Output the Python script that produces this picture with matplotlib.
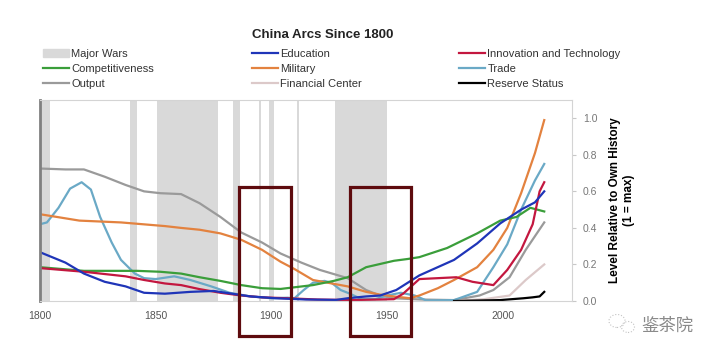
import matplotlib
matplotlib.use("Agg")
import matplotlib.pyplot as plt
from matplotlib.patches import Patch, Rectangle, Ellipse

plt.rcParams['font.family'] = ['Liberation Sans', 'DejaVu Sans']

FIG_SIZE = (7.15, 3.58)
DPI = 100
TITLE = "China Arcs Since 1800"
Y_LABEL = "Level Relative to Own History\n(1 = max)"
WAR_COLOR = '#d9d9d9'
BOX_COLOR = '#5e0b0e'

# data
war_spans = [(1800, 1804.5), (1839, 1842), (1850.5, 1877), (1883.5, 1886.5),
             (1894.5, 1895.5), (1899, 1901), (1911, 1912), (1927.5, 1950)]

output_years = [1800, 1811, 1819, 1828, 1837, 1845, 1852, 1861, 1869, 1878, 1887, 1896,
                1904, 1913, 1921, 1933, 1941, 1947, 1953, 1965, 1979, 1990, 1996, 2003,
                2010, 2018]
output_vals = [0.725, 0.72, 0.72, 0.68, 0.635, 0.60, 0.59, 0.585, 0.535, 0.46, 0.375, 0.32,
               0.26, 0.21, 0.17, 0.125, 0.06, 0.03, 0.015, 0.008, 0.005, 0.03, 0.06, 0.13,
               0.28, 0.43]

trade_years = [1800, 1803, 1808, 1813, 1818, 1822, 1826, 1831, 1835, 1841, 1845, 1850,
               1858, 1865, 1874, 1882, 1891, 1900, 1907, 1910, 1914, 1918, 1923, 1926,
               1930, 1934, 1939, 1945, 1950, 1956, 1962, 1967, 1979, 1989, 1996, 2002,
               2008, 2014, 2018]
trade_vals = [0.42, 0.43, 0.51, 0.615, 0.65, 0.61, 0.46, 0.32, 0.225, 0.15, 0.125, 0.12,
              0.135, 0.115, 0.08, 0.045, 0.025, 0.015, 0.018, 0.015, 0.06, 0.10, 0.11, 0.10,
              0.06, 0.04, 0.01, 0.01, 0.03, 0.045, 0.03, 0.003, 0.005, 0.05, 0.185, 0.31,
              0.50, 0.66, 0.75]

military_years = [1800, 1817, 1835, 1854, 1861, 1869, 1878, 1887, 1896, 1904, 1910, 1918,
                  1933, 1941, 1947, 1953, 1960, 1964, 1972, 1979, 1989, 1996, 2002, 2008,
                  2014, 2018]
military_vals = [0.475, 0.44, 0.43, 0.41, 0.40, 0.39, 0.37, 0.335, 0.28, 0.215, 0.175, 0.115,
                 0.08, 0.05, 0.035, 0.025, 0.015, 0.03, 0.07, 0.115, 0.185, 0.28, 0.40, 0.59,
                 0.81, 0.99]

education_years = [1800, 1811, 1819, 1828, 1837, 1845, 1854, 1865, 1875, 1883, 1891, 1902,
                   1915, 1928, 1933, 1941, 1947, 1954, 1959, 1964, 1979, 1989, 1999, 2008,
                   2014, 2018]
education_vals = [0.267, 0.21, 0.15, 0.105, 0.08, 0.045, 0.04, 0.05, 0.055, 0.04, 0.025, 0.015,
                  0.008, 0.006, 0.015, 0.025, 0.03, 0.06, 0.10, 0.14, 0.225, 0.315, 0.425, 0.50,
                  0.54, 0.60]

compet_years = [1800, 1819, 1842, 1852, 1861, 1869, 1878, 1887, 1896, 1904, 1918, 1927,
                1933, 1941, 1953, 1959, 1964, 1976, 1989, 1999, 2006, 2012, 2018]
compet_vals = [0.185, 0.165, 0.165, 0.16, 0.15, 0.13, 0.11, 0.087, 0.07, 0.066, 0.087, 0.11,
               0.13, 0.185, 0.22, 0.23, 0.24, 0.29, 0.37, 0.44, 0.46, 0.51, 0.49]

innov_years = [1800, 1819, 1837, 1845, 1854, 1861, 1869, 1878, 1887, 1896, 1907, 1920,
               1935, 1953, 1957, 1964, 1980, 1987, 1996, 2002, 2008, 2013, 2016, 2018]
innov_vals = [0.18, 0.16, 0.135, 0.115, 0.096, 0.087, 0.065, 0.045, 0.03, 0.02, 0.015, 0.008,
              0.005, 0.01, 0.04, 0.12, 0.13, 0.105, 0.087, 0.17, 0.28, 0.42, 0.60, 0.65]

financial_years = [1978, 1992, 2003, 2010, 2018]
financial_vals = [0.0, 0.01, 0.03, 0.115, 0.20]

reserve_years = [1979, 1999, 2009, 2013, 2016, 2018]
reserve_vals = [0.0, 0.005, 0.015, 0.02, 0.025, 0.05]

box_spans = [(1886.1, 1908.7), (1934.2, 1960.6)]
box_y = (-0.19, 0.622)

x_ticks = [1800, 1850, 1900, 1950, 2000]
y_ticks = [0.0, 0.2, 0.4, 0.6, 0.8, 1.0]

series = [
    ("Output", output_years, output_vals, '#9a9a9a'),
    ("Financial Center", financial_years, financial_vals, '#dcc9c9'),
    ("Trade", trade_years, trade_vals, '#6aa9c6'),
    ("Military", military_years, military_vals, '#e3823f'),
    ("Competitiveness", compet_years, compet_vals, '#3a9e3a'),
    ("Innovation and Technology", innov_years, innov_vals, '#c3173f'),
    ("Education", education_years, education_vals, '#1f35b8'),
    ("Reserve Status", reserve_years, reserve_vals, '#000000'),
]

fig = plt.figure(figsize=FIG_SIZE, dpi=DPI)
ax = fig.add_axes([40 / 715, 57 / 358, 532 / 715, 201 / 358])

for start, end in war_spans:
    ax.axvspan(start, end, color=WAR_COLOR, lw=0, zorder=0)

lines = {}
for name, yrs, vals, color in series:
    line, = ax.plot(yrs, vals, color=color, lw=1.6, solid_joinstyle='round', zorder=2,
                    label=name)
    lines[name] = line

for x0, x1 in box_spans:
    ax.add_patch(Rectangle((x0, box_y[0]), x1 - x0, box_y[1] - box_y[0], fill=False,
                           ec=BOX_COLOR, lw=2.3, clip_on=False, zorder=5))

ax.set_xlim(1800, 2030)
ax.set_ylim(0, 1.1)
ax.set_xticks(x_ticks)
ax.set_yticks(y_ticks)
ax.set_yticklabels([f"{v:.1f}" for v in y_ticks])
ax.yaxis.tick_right()
ax.yaxis.set_label_position('right')
ax.tick_params(axis='x', length=0, pad=7, labelsize=7.5, labelcolor='#555555')
ax.tick_params(axis='y', length=3, width=0.8, color='#c8c8c8', pad=5, labelsize=7.5,
               labelcolor='#777777')
ax.set_ylabel(Y_LABEL, fontsize=8.5, fontweight='bold', labelpad=8)

for side in ['top', 'right', 'bottom']:
    ax.spines[side].set_color('#d4d4d4')
    ax.spines[side].set_linewidth(0.8)
ax.spines['left'].set_color('#808080')
ax.spines['left'].set_linewidth(2)

fig.text(323 / 715, 1 - 35 / 358, TITLE, ha='center', va='center', fontsize=9.5,
         fontweight='bold', color='#222222')

legend_cols = [
    [Patch(color=WAR_COLOR, label="Major Wars"), lines["Competitiveness"], lines["Output"]],
    [lines["Education"], lines["Military"], lines["Financial Center"]],
    [lines["Innovation and Technology"], lines["Trade"], lines["Reserve Status"]],
]
col_x = [43, 252, 459]
for x, handles in zip(col_x, legend_cols):
    fig.legend(handles=handles, labels=[h.get_label() for h in handles], loc='upper left',
               bbox_to_anchor=(x / 715, 1 - 49 / 358), frameon=False, fontsize=8,
               handlelength=2.35, handletextpad=0.2, labelspacing=0.45, borderaxespad=0,
               borderpad=0, labelcolor='#333333')

# watermark
fig.patches.append(Ellipse((617 / 715, 1 - 321 / 358), 16 / 715, 13 / 358, fill=False,
                           ec='#c4c4c4', lw=0.8, ls=':', transform=fig.transFigure))
fig.patches.append(Ellipse((628 / 715, 1 - 327 / 358), 13 / 715, 11 / 358, fill=False,
                           ec='#c4c4c4', lw=0.8, ls=':', transform=fig.transFigure))
fig.text(667 / 715, 1 - 326 / 358, "鉴茶院", ha='center', va='center', fontsize=12.5,
         color='#8a8a8a', family=['Noto Sans CJK SC', 'DejaVu Sans'])

fig.savefig("out.png", dpi=DPI)
